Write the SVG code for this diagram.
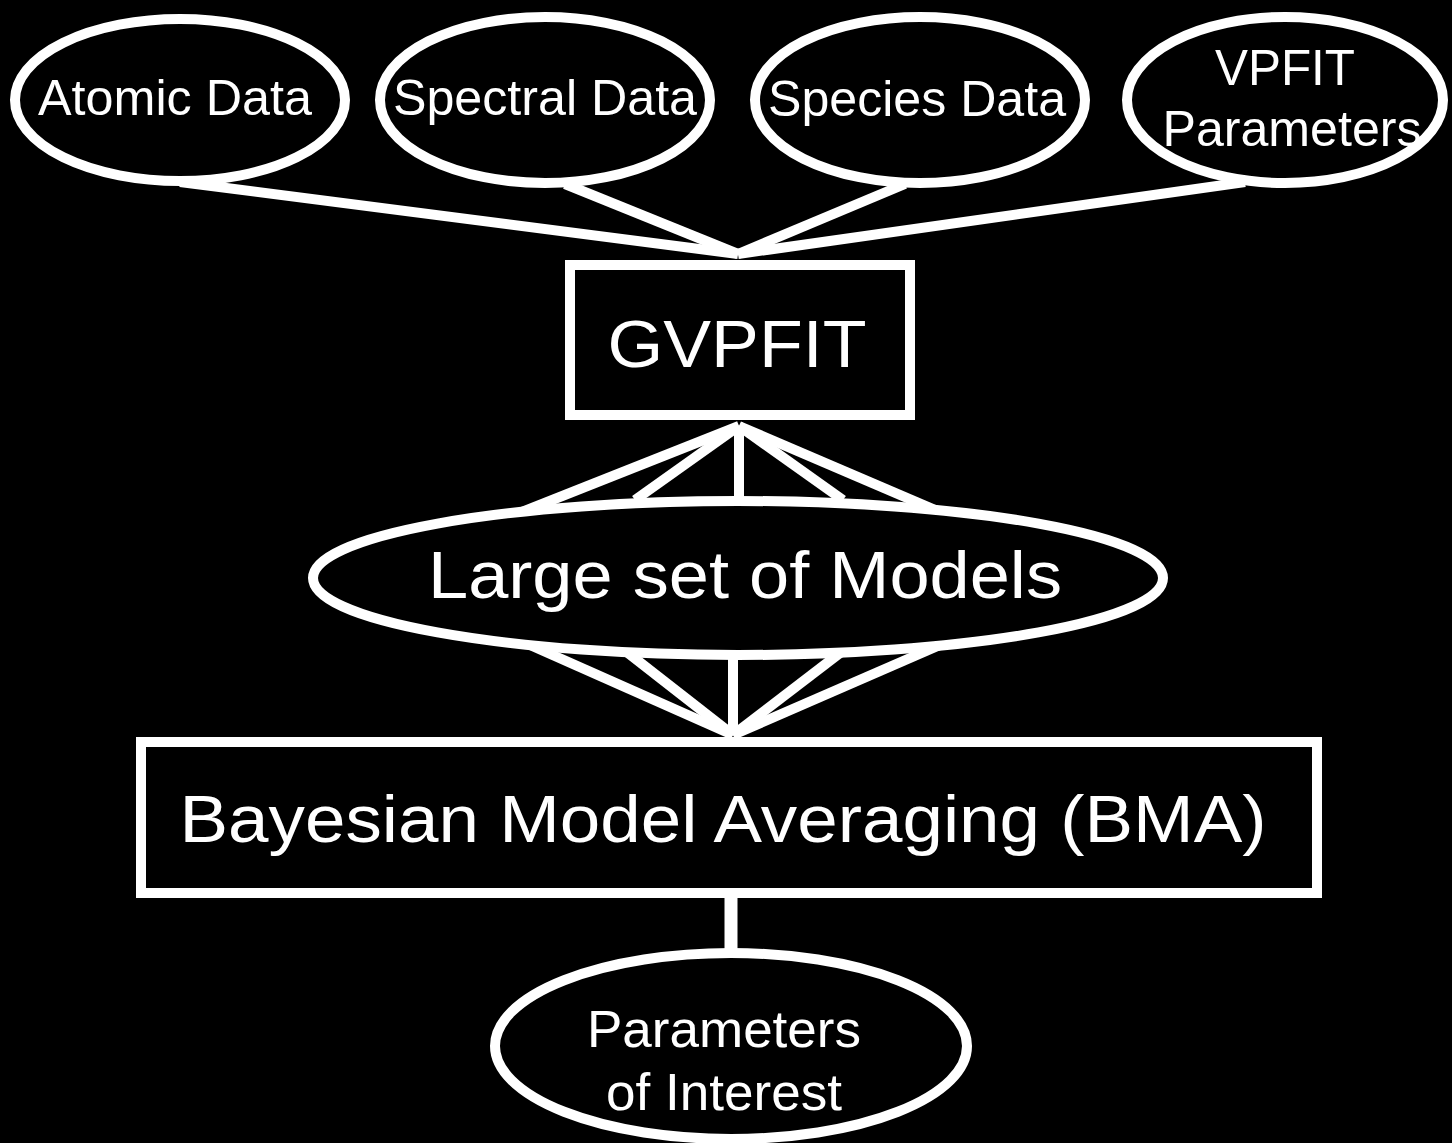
<svg xmlns="http://www.w3.org/2000/svg" width="1452" height="1143" viewBox="0 0 1452 1143">
<style>
.shape{fill:#000;stroke:#fff;stroke-width:10}
.conn{stroke:#fff;stroke-width:10;stroke-linecap:butt;fill:none}
.t{fill:#fff;font-family:"Liberation Sans",Arial,sans-serif;text-anchor:middle}
</style>
<rect x="0" y="0" width="1452" height="1143" fill="#000"/>
<g id="connectors">
<line class="conn" x1="180" y1="182" x2="738" y2="254"/>
<line class="conn" x1="565" y1="184" x2="738" y2="254"/>
<line class="conn" x1="905" y1="184" x2="738" y2="254"/>
<line class="conn" x1="1245" y1="182" x2="738" y2="254"/>
<line class="conn" x1="739" y1="426" x2="522" y2="512"/>
<line class="conn" x1="739" y1="426" x2="635" y2="500"/>
<line class="conn" x1="739" y1="426" x2="739" y2="497"/>
<line class="conn" x1="739" y1="426" x2="843" y2="500"/>
<line class="conn" x1="739" y1="426" x2="940" y2="512"/>
<line class="conn" x1="733" y1="735" x2="530" y2="645"/>
<line class="conn" x1="733" y1="735" x2="628" y2="653"/>
<line class="conn" x1="733" y1="735" x2="733" y2="657"/>
<line class="conn" x1="733" y1="735" x2="840" y2="653"/>
<line class="conn" x1="733" y1="735" x2="940" y2="645"/>
<line class="conn" x1="731" y1="894" x2="731" y2="955" style="stroke-width:13"/>
</g>
<g id="atomic">
<ellipse class="shape" cx="180" cy="100" rx="165" ry="81"/>
<text class="t" x="175" y="115" font-size="50" textLength="274" lengthAdjust="spacingAndGlyphs">Atomic Data</text>
</g>
<g id="spectral">
<ellipse class="shape" cx="545" cy="100" rx="165" ry="83"/>
<text class="t" x="545" y="115" font-size="50" textLength="304" lengthAdjust="spacingAndGlyphs">Spectral Data</text>
</g>
<g id="species">
<ellipse class="shape" cx="920" cy="100" rx="165" ry="83"/>
<text class="t" x="917" y="116" font-size="50" textLength="298" lengthAdjust="spacingAndGlyphs">Species Data</text>
</g>
<g id="vpfit">
<ellipse class="shape" cx="1285" cy="100" rx="158" ry="83"/>
<text class="t" x="1285" y="85" font-size="50" textLength="140" lengthAdjust="spacingAndGlyphs">VPFIT</text>
<text class="t" x="1292" y="146" font-size="50" textLength="259" lengthAdjust="spacingAndGlyphs">Parameters</text>
</g>
<g id="gvpfit">
<rect class="shape" x="570" y="265" width="340" height="150"/>
<text class="t" x="737" y="367" font-size="67" textLength="259" lengthAdjust="spacingAndGlyphs">GVPFIT</text>
</g>
<g id="models">
<ellipse class="shape" cx="738" cy="578" rx="425" ry="77"/>
<text class="t" x="745" y="598" font-size="66" textLength="634" lengthAdjust="spacingAndGlyphs">Large set of Models</text>
</g>
<g id="bma">
<rect class="shape" x="141" y="742" width="1176" height="151"/>
<text class="t" x="723" y="842" font-size="66" textLength="1087" lengthAdjust="spacingAndGlyphs">Bayesian Model Averaging (BMA)</text>
</g>
<g id="poi">
<ellipse class="shape" cx="731" cy="1046" rx="236" ry="93"/>
<text class="t" x="724" y="1047" font-size="52" textLength="274" lengthAdjust="spacingAndGlyphs">Parameters</text>
<text class="t" x="724" y="1110" font-size="52" textLength="236" lengthAdjust="spacingAndGlyphs">of Interest</text>
</g>
</svg>
